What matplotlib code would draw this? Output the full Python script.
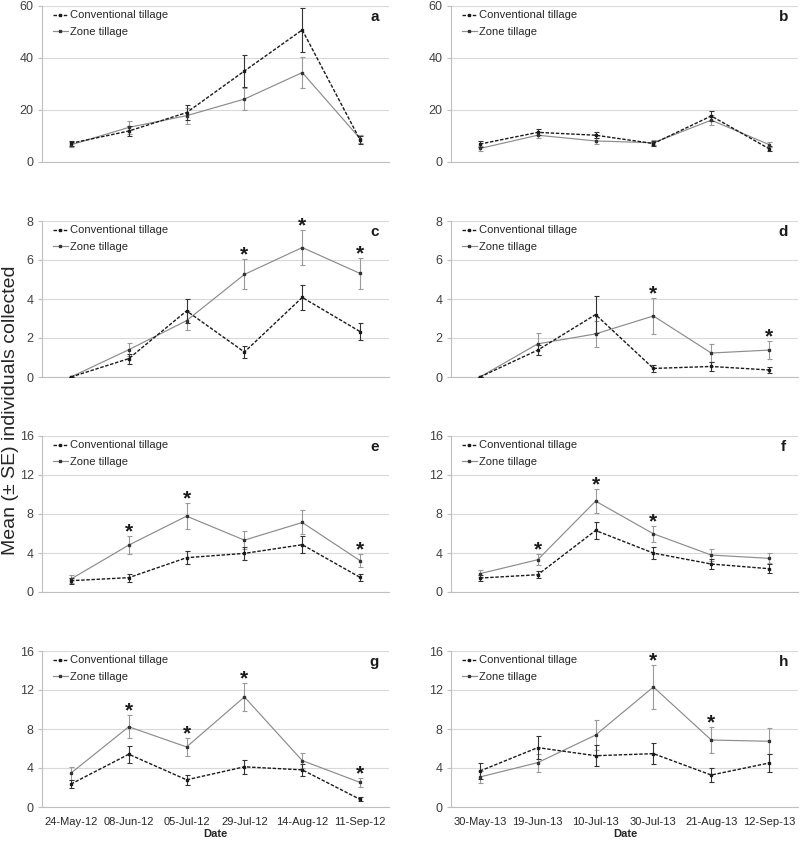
import matplotlib.pyplot as plt
from matplotlib.lines import Line2D

plt.rcParams['font.family'] = ['Liberation Sans', 'DejaVu Sans']

dates_2012 = ['24-May-12', '08-Jun-12', '05-Jul-12', '29-Jul-12', '14-Aug-12', '11-Sep-12']
dates_2013 = ['30-May-13', '19-Jun-13', '10-Jul-13', '30-Jul-13', '21-Aug-13', '12-Sep-13']

# panel a
conv_a = [7.2, 11.9, 19.0, 35.0, 50.8, 8.5]
conv_a_se = [1.0, 2.0, 3.0, 6.0, 8.5, 1.5]
zone_a = [6.6, 13.3, 17.8, 24.2, 34.4, 9.0]
zone_a_se = [1.0, 2.5, 3.0, 4.2, 6.0, 1.5]
stars_a = []

# panel b
conv_b = [6.9, 11.4, 10.3, 7.1, 17.7, 5.1]
conv_b_se = [1.0, 1.2, 1.2, 0.9, 1.8, 0.9]
zone_b = [5.2, 10.3, 8.1, 7.4, 16.1, 6.7]
zone_b_se = [0.9, 1.2, 1.1, 0.9, 1.8, 1.0]
stars_b = []

# panel c
conv_c = [0.0, 0.94, 3.39, 1.28, 4.08, 2.33]
conv_c_se = [0.0, 0.25, 0.6, 0.3, 0.65, 0.45]
zone_c = [0.0, 1.40, 2.89, 5.26, 6.64, 5.31]
zone_c_se = [0.0, 0.33, 0.47, 0.77, 0.9, 0.78]
stars_c = [3, 4, 5]

# panel d
conv_d = [0.0, 1.38, 3.2, 0.44, 0.54, 0.36]
conv_d_se = [0.0, 0.27, 0.95, 0.18, 0.25, 0.17]
zone_d = [0.0, 1.70, 2.21, 3.13, 1.23, 1.38]
zone_d_se = [0.0, 0.57, 0.66, 0.92, 0.44, 0.47]
stars_d = [3, 5]

# panel e
conv_e = [1.16, 1.47, 3.52, 3.96, 4.85, 1.50]
conv_e_se = [0.3, 0.4, 0.65, 0.65, 0.9, 0.35]
zone_e = [1.33, 4.81, 7.78, 5.32, 7.13, 3.21]
zone_e_se = [0.4, 0.9, 1.3, 0.93, 1.23, 0.65]
stars_e = [1, 2, 5]

# panel f
conv_f = [1.43, 1.77, 6.31, 3.99, 2.87, 2.39]
conv_f_se = [0.3, 0.35, 0.85, 0.62, 0.5, 0.45]
zone_f = [1.88, 3.31, 9.32, 5.97, 3.79, 3.45]
zone_f_se = [0.37, 0.57, 1.2, 0.85, 0.65, 0.5]
stars_f = [1, 2, 3]

# panel g
conv_g = [2.35, 5.41, 2.79, 4.12, 3.81, 0.78]
conv_g_se = [0.45, 0.85, 0.5, 0.7, 0.6, 0.2]
zone_g = [3.47, 8.23, 6.16, 11.29, 4.76, 2.52]
zone_g_se = [0.65, 1.18, 0.9, 1.45, 0.78, 0.47]
stars_g = [1, 2, 3, 5]

# panel h
conv_h = [3.69, 6.09, 5.26, 5.47, 3.28, 4.51]
conv_h_se = [0.78, 1.2, 1.05, 1.1, 0.7, 0.92]
zone_h = [3.08, 4.55, 7.38, 12.31, 6.87, 6.74]
zone_h_se = [0.6, 0.92, 1.55, 2.27, 1.35, 1.35]
stars_h = [3, 4]

panels = [
    ('a', conv_a, conv_a_se, zone_a, zone_a_se, stars_a, [0, 20, 40, 60]),
    ('b', conv_b, conv_b_se, zone_b, zone_b_se, stars_b, [0, 20, 40, 60]),
    ('c', conv_c, conv_c_se, zone_c, zone_c_se, stars_c, [0, 2, 4, 6, 8]),
    ('d', conv_d, conv_d_se, zone_d, zone_d_se, stars_d, [0, 2, 4, 6, 8]),
    ('e', conv_e, conv_e_se, zone_e, zone_e_se, stars_e, [0, 4, 8, 12, 16]),
    ('f', conv_f, conv_f_se, zone_f, zone_f_se, stars_f, [0, 4, 8, 12, 16]),
    ('g', conv_g, conv_g_se, zone_g, zone_g_se, stars_g, [0, 4, 8, 12, 16]),
    ('h', conv_h, conv_h_se, zone_h, zone_h_se, stars_h, [0, 4, 8, 12, 16]),
]

W, H = 800, 841
fig = plt.figure(figsize=(W / 100, H / 100), dpi=100)

col_left = [42, 451]
col_width = [347, 347]
row_bottom = [162, 377, 592, 807]
ax_height = 156

conv_color = '#1a1a1a'
zone_color = '#8c8c8c'
conv_dash = (0, (2.5, 1.2))
x = list(range(6))

for i, (letter, conv, conv_se, zone, zone_se, stars, yticks) in enumerate(panels):
    row, col = divmod(i, 2)
    ax = fig.add_axes([col_left[col] / W, 1 - row_bottom[row] / H,
                       col_width[col] / W, ax_height / H])

    ax.errorbar(x, zone, yerr=zone_se, color=zone_color, lw=0.85, marker='s',
                markersize=1.7, mfc='#333333', mec='#333333', ecolor='#9a9a9a',
                elinewidth=0.8, capsize=1.8, capthick=0.8, zorder=3)
    ax.errorbar(x, conv, yerr=conv_se, color=conv_color, lw=1.0, ls=conv_dash,
                marker='s', markersize=1.7, mfc=conv_color, mec=conv_color,
                ecolor='#333333', elinewidth=0.8, capsize=1.8, capthick=0.8,
                zorder=4)

    # significance stars above the zone tillage error bars
    for s in stars:
        ax.annotate('*', xy=(s, zone[s] + zone_se[s]), xytext=(0, -1.0),
                    textcoords='offset points', ha='center', va='baseline',
                    fontsize=15, fontweight='bold', color='#1a1a1a')

    ax.set_xlim(-0.5, 5.5)
    ax.set_ylim(yticks[0], yticks[-1])
    ax.set_yticks(yticks)
    ax.set_xticks(x)
    ax.grid(axis='y', color='#d9d9d9', lw=0.8)
    ax.set_axisbelow(True)
    for side in ['top', 'right']:
        ax.spines[side].set_visible(False)
    ax.spines['left'].set_color('#bfbfbf')
    ax.spines['bottom'].set_color('#bfbfbf')
    ax.tick_params(axis='y', length=3, color='#bfbfbf', labelsize=9,
                   labelcolor='#404040', pad=3)
    ax.tick_params(axis='x', length=0, labelsize=8, labelcolor='#262626', pad=7)
    if row == 3:
        ax.set_xticklabels(dates_2012 if col == 0 else dates_2013)
    else:
        ax.set_xticklabels([])

    handles = [
        Line2D([], [], color=conv_color, lw=1.0, ls=conv_dash, marker='s',
               markersize=1.7, mfc=conv_color, mec=conv_color),
        Line2D([], [], color=zone_color, lw=0.85, marker='s', markersize=1.7,
               mfc='#333333', mec='#333333'),
    ]
    leg = ax.legend(handles, ['Conventional tillage', 'Zone tillage'], loc='upper left',
                    bbox_to_anchor=(0.018, 1.0), frameon=False, fontsize=8,
                    handlelength=1.4, handletextpad=0.2, labelspacing=0.55,
                    borderaxespad=0, numpoints=1)
    for t in leg.get_texts():
        t.set_color('#262626')

    ax.text(0.958, 0.93, letter, transform=ax.transAxes, ha='center', va='center',
            fontsize=11, fontweight='bold', color='#1a1a1a')

fig.text(11 / W, 1 - 410 / H, 'Mean (\u00b1 SE) individuals collected', rotation=90,
         ha='center', va='center', fontsize=14, color='#262626')
for cx in [215, 625]:
    fig.text(cx / W, 1 - 834 / H, 'Date', ha='center', va='center', fontsize=8,
             fontweight='bold', color='#262626')

fig.savefig('out.png', dpi=100)
